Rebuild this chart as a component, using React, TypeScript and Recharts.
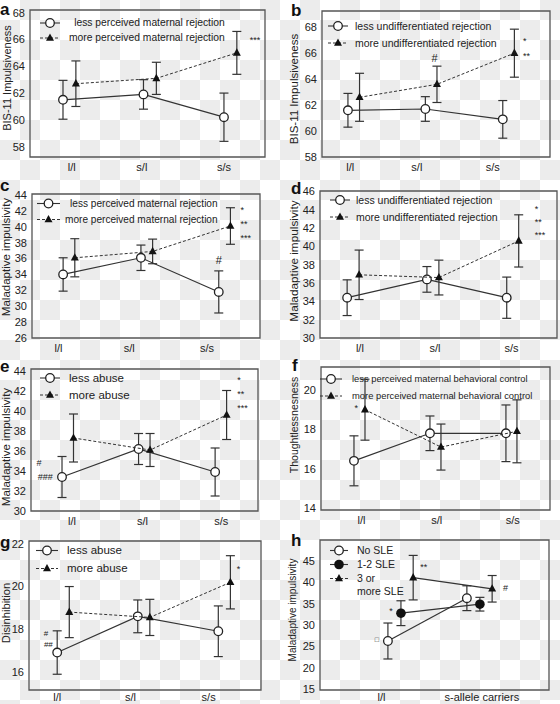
import React from "react"
import { ScatterChart, Scatter, XAxis, YAxis, ErrorBar, ReferenceArea, Legend } from "recharts"

const FONT = '"Liberation Sans", Arial, Helvetica, sans-serif'

// categories
const GENOTYPES = ["l/l", "s/l", "s/s"]
const CARRIER_GROUPS = ["l/l", "s-allele carriers"]

// y tick labels
const TICKS_A = [58, 60, 62, 64, 66, 68]
const TICKS_B = [58, 60, 62, 64, 66, 68]
const TICKS_C = [26, 28, 30, 32, 34, 36, 38, 40, 42, 44]
const TICKS_D = [30, 32, 34, 36, 38, 40, 42, 44, 46]
const TICKS_E = [30, 32, 34, 36, 38, 40, 42, 44]
const TICKS_F = [14, 16, 18, 20]
const TICKS_G = [16, 18, 20, 22]
const TICKS_H = [15, 20, 25, 30, 35, 40, 45]

// a: maternal rejection -> BIS-11
const A_LESS = [61.5, 61.9, 60.2]
const A_LESS_SE = [1.45, 1.1, 1.8]
const A_MORE = [62.7, 63.1, 65.0]
const A_MORE_SE = [1.7, 1.2, 1.6]

// b: undifferentiated rejection -> BIS-11
const B_LESS = [61.6, 61.7, 60.9]
const B_LESS_SE = [1.3, 0.95, 1.45]
const B_MORE = [62.6, 63.6, 66.0]
const B_MORE_SE = [1.85, 1.4, 1.85]

// c: maternal rejection -> maladaptive impulsivity
const C_LESS = [34.0, 36.1, 31.8]
const C_LESS_SE = [2.1, 1.6, 2.65]
const C_MORE = [36.1, 36.9, 40.1]
const C_MORE_SE = [2.4, 1.55, 2.3]

// d: undifferentiated rejection -> maladaptive impulsivity
const D_LESS = [34.4, 36.4, 34.4]
const D_LESS_SE = [1.95, 1.4, 2.25]
const D_MORE = [36.9, 36.6, 40.6]
const D_MORE_SE = [2.7, 1.9, 2.85]

// e: abuse -> maladaptive impulsivity
const E_LESS = [33.4, 36.2, 33.9]
const E_LESS_SE = [2.05, 1.55, 2.4]
const E_MORE = [37.3, 36.1, 39.6]
const E_MORE_SE = [2.4, 1.65, 2.45]

// f: behavioral control -> thoughtlessness
const F_LESS = [16.4, 17.8, 17.8]
const F_LESS_SE = [1.27, 0.88, 1.44]
const F_MORE = [19.0, 17.1, 17.9]
const F_MORE_SE = [1.55, 1.17, 1.6]

// g: abuse -> disinhibition
const G_LESS = [16.9, 18.6, 17.9]
const G_LESS_SE = [1.02, 0.77, 1.19]
const G_MORE = [18.8, 18.55, 20.2]
const G_MORE_SE = [1.2, 0.85, 1.25]

// h: stressful life events
const H_NONE = [26.3, 36.3]
const H_NONE_SE = [4.2, 2.9]
const H_LOW = [32.8, 34.9]
const H_LOW_SE = [2.9, 1.6]
const H_HIGH = [41.1, 38.5]
const H_HIGH_SE = [5.2, 3.1]

type Kind = "open" | "tri" | "dot"
type Series = { name: string; values: number[]; se: number[]; kind: Kind; dashed: boolean; dodge: number }
type Note = { x: number; y: number; text: string; anchor?: "start" | "middle"; size?: number }
type LegendCfg = { x: number; y: number; rowH: number; sampleW: number; gap: number; fontSize: number; align?: "left" | "right" }
type PanelCfg = {
  letter: string
  letterPos: [number, number]
  box: [number, number, number, number]
  yDomain: [number, number]
  yTicks: number[]
  yLabel: string
  yLabelPos: [number, number]
  yLabelSize: number
  xDomain: [number, number]
  xTicks: number[]
  xLabels: string[]
  xTickSize?: number
  series: Series[]
  notes: Note[]
  legend: LegendCfg
  solidLines?: boolean
}

function Marker({ kind, cx, cy }: { kind: Kind; cx: number; cy: number }) {
  if (kind === "open") return <circle cx={cx} cy={cy} r={4.3} fill="#fff" stroke="#222" strokeWidth={1.3} />
  if (kind === "dot") return <circle cx={cx} cy={cy} r={4.8} fill="#111" />
  return <polygon points={`${cx},${cy - 4.6} ${cx + 4},${cy + 2.8} ${cx - 4},${cy + 2.8}`} fill="#111" />
}

function NoteShape(props: any) {
  const { cx, cy, payload } = props
  const star = payload.text.startsWith("*")
  return (
    <text
      x={cx}
      y={cy}
      dy={star ? "0.6em" : "0.36em"}
      textAnchor={payload.anchor ?? "middle"}
      fontSize={payload.size ?? 9}
      fontFamily={FONT}
      fill="#222"
    >
      {payload.text}
    </text>
  )
}

function LegendRows({ cfg, series }: { cfg: LegendCfg; series: Series[] }) {
  return (
    <div
      style={{
        display: "grid",
        gridTemplateColumns: "auto auto",
        columnGap: cfg.gap,
        fontFamily: FONT,
        fontSize: cfg.fontSize,
        color: "#222",
        lineHeight: `${cfg.rowH}px`,
      }}
    >
      {series.map((s) => (
        <React.Fragment key={s.name}>
          <svg width={cfg.sampleW} height={cfg.rowH} style={{ display: "block" }}>
            <line
              x1={0}
              x2={cfg.sampleW}
              y1={cfg.rowH / 2}
              y2={cfg.rowH / 2}
              stroke="#333"
              strokeWidth={1.1}
              strokeDasharray={s.dashed ? "3 2" : undefined}
            />
            <Marker kind={s.kind} cx={cfg.sampleW / 2} cy={cfg.rowH / 2} />
          </svg>
          <div style={{ textAlign: cfg.align ?? "left", whiteSpace: "pre-line", paddingBottom: 1 }}>{s.name}</div>
        </React.Fragment>
      ))}
    </div>
  )
}

function Panel({ cfg }: { cfg: PanelCfg }) {
  const [l, t, r, b] = cfg.box
  const YW = 28
  const MT = 8
  const MR = 8
  const XH = 22
  const left = l - YW
  const top = t - MT
  const width = r - l + YW + MR
  const height = b - t + MT + XH
  const tickStyle = { fontSize: 11, fill: "#222", fontFamily: FONT }

  return (
    <>
      <div style={{ position: "absolute", left, top }}>
        <ScatterChart width={width} height={height} margin={{ top: MT, right: MR, bottom: 0, left: 0 }}>
          <XAxis
            type="number"
            dataKey="x"
            domain={cfg.xDomain}
            ticks={cfg.xTicks}
            interval={0}
            allowDataOverflow
            tickFormatter={(v: number) => cfg.xLabels[cfg.xTicks.indexOf(v)] ?? ""}
            axisLine={false}
            tickLine={false}
            tickSize={cfg.xTickSize ?? 4}
            tickMargin={2}
            height={XH}
            tick={tickStyle}
          />
          <YAxis
            type="number"
            dataKey="y"
            domain={cfg.yDomain}
            ticks={cfg.yTicks}
            interval={0}
            allowDataOverflow
            axisLine={false}
            tickLine={false}
            tickSize={3}
            tickMargin={2}
            width={YW}
            tick={tickStyle}
          />
          <ReferenceArea
            x1={cfg.xDomain[0]}
            x2={cfg.xDomain[1]}
            y1={cfg.yDomain[0]}
            y2={cfg.yDomain[1]}
            fill="none"
            stroke="#555"
            strokeWidth={1.3}
          />
          {cfg.series.map((s) => (
            <Scatter
              key={s.name}
              name={s.name}
              data={s.values.map((y, i) => ({ x: i + 1 + s.dodge, y, se: s.se[i] }))}
              line={{
                stroke: "#333",
                strokeWidth: s.dashed && !cfg.solidLines ? 1 : 1.2,
                strokeDasharray: s.dashed && !cfg.solidLines ? "3 2" : undefined,
              }}
              lineType="joint"
              shape={(p: any) => <Marker kind={s.kind} cx={p.cx} cy={p.cy} />}
              isAnimationActive={false}
            >
              <ErrorBar dataKey="se" direction="y" width={4.5} stroke="#333" strokeWidth={1.2} />
            </Scatter>
          ))}
          <Scatter data={cfg.notes} shape={NoteShape} isAnimationActive={false} />
          <Legend
            layout="vertical"
            align="center"
            verticalAlign="middle"
            wrapperStyle={{ left: cfg.legend.x - left, top: cfg.legend.y - cfg.legend.rowH / 2 - top, width: "auto" }}
            content={() => <LegendRows cfg={cfg.legend} series={cfg.series} />}
          />
        </ScatterChart>
      </div>
      <div
        style={{
          position: "absolute",
          left: cfg.letterPos[0],
          top: cfg.letterPos[1] - 13,
          fontFamily: FONT,
          fontWeight: "bold",
          fontSize: 17,
          lineHeight: "17px",
          color: "#111",
        }}
      >
        {cfg.letter}
      </div>
      <div
        style={{
          position: "absolute",
          left: cfg.yLabelPos[0],
          top: cfg.yLabelPos[1],
          transform: "translate(-50%, -50%) rotate(-90deg)",
          whiteSpace: "nowrap",
          fontFamily: FONT,
          fontSize: cfg.yLabelSize,
          lineHeight: 1,
          color: "#222",
        }}
      >
        {cfg.yLabel}
      </div>
    </>
  )
}

const pair = (lessName: string, moreName: string, less: number[], lessSe: number[], more: number[], moreSe: number[], dodge: number): Series[] => [
  { name: lessName, values: less, se: lessSe, kind: "open", dashed: false, dodge: 0 },
  { name: moreName, values: more, se: moreSe, kind: "tri", dashed: true, dodge },
]

const PANELS: PanelCfg[] = [
  {
    letter: "a",
    letterPos: [0, 14],
    box: [30, 10, 265, 157],
    yDomain: [57.23, 68.2],
    yTicks: TICKS_A,
    yLabel: "BIS-11 Impulsiveness",
    yLabelPos: [7, 78],
    yLabelSize: 11,
    xDomain: [0.59, 3.51],
    xTicks: [1.11, 1.98, 3.0],
    xLabels: GENOTYPES,
    series: pair("less perceived maternal rejection", "more perceived maternal rejection", A_LESS, A_LESS_SE, A_MORE, A_MORE_SE, 0.16),
    notes: [{ x: 3.32, y: 66.15, text: "***", anchor: "start" }],
    legend: { x: 40, y: 23, rowH: 14, sampleW: 20, gap: 9, fontSize: 10.3, align: "right" },
  },
  {
    letter: "b",
    letterPos: [291, 15],
    box: [322, 11, 550, 157],
    yDomain: [58, 69.25],
    yTicks: TICKS_B,
    yLabel: "BIS-11 Impulsiveness",
    yLabelPos: [295, 89],
    yLabelSize: 11.5,
    xDomain: [0.665, 3.61],
    xTicks: [1.03, 1.89, 2.87],
    xLabels: GENOTYPES,
    series: pair("less undifferentiated rejection", "more undifferentiated rejection", B_LESS, B_LESS_SE, B_MORE, B_MORE_SE, 0.15),
    notes: [
      { x: 2.12, y: 65.6, text: "#", size: 11 },
      { x: 3.26, y: 67.1, text: "*", anchor: "start" },
      { x: 3.26, y: 66.0, text: "**", anchor: "start" },
    ],
    legend: { x: 328, y: 26, rowH: 16, sampleW: 20, gap: 7, fontSize: 10.5 },
  },
  {
    letter: "c",
    letterPos: [0, 190],
    box: [32, 194, 260, 338],
    yDomain: [26, 44.13],
    yTicks: TICKS_C,
    yLabel: "Maladaptive impulsivity",
    yLabelPos: [7, 257],
    yLabelSize: 11.5,
    xDomain: [0.6, 3.53],
    xTicks: [0.94, 1.85, 2.85],
    xLabels: GENOTYPES,
    series: pair("less perceived maternal rejection", "more perceived maternal rejection", C_LESS, C_LESS_SE, C_MORE, C_MORE_SE, 0.15),
    notes: [
      { x: 3.28, y: 42.4, text: "*", anchor: "start" },
      { x: 3.28, y: 40.6, text: "**", anchor: "start" },
      { x: 3.28, y: 38.9, text: "***", anchor: "start" },
      { x: 3.0, y: 35.8, text: "#", size: 11 },
    ],
    legend: { x: 37, y: 203, rowH: 15, sampleW: 23, gap: 5, fontSize: 10.1, align: "right" },
  },
  {
    letter: "d",
    letterPos: [291, 193],
    box: [320, 191, 557, 338],
    yDomain: [30, 46.05],
    yTicks: TICKS_D,
    yLabel: "Maladaptive impulsivity",
    yLabelPos: [295, 261],
    yLabelSize: 11.8,
    xDomain: [0.66, 3.63],
    xTicks: [1.16, 2.1, 3.06],
    xLabels: GENOTYPES,
    series: pair("less undifferentiated rejection", "more undifferentiated rejection", D_LESS, D_LESS_SE, D_MORE, D_MORE_SE, 0.15),
    notes: [
      { x: 3.35, y: 44.4, text: "*", anchor: "start" },
      { x: 3.35, y: 42.9, text: "**", anchor: "start" },
      { x: 3.35, y: 41.5, text: "***", anchor: "start" },
    ],
    legend: { x: 330, y: 200, rowH: 16, sampleW: 20, gap: 6, fontSize: 10.5 },
  },
  {
    letter: "e",
    letterPos: [0, 371],
    box: [31, 369, 258, 511],
    yDomain: [30, 44.2],
    yTicks: TICKS_E,
    yLabel: "Maladaptive impulsivity",
    yLabelPos: [7, 447],
    yLabelSize: 11.5,
    xDomain: [0.595, 3.56],
    xTicks: [1.13, 2.05, 3.08],
    xLabels: GENOTYPES,
    series: pair("less abuse", "more abuse", E_LESS, E_LESS_SE, E_MORE, E_MORE_SE, 0.15),
    notes: [
      { x: 3.29, y: 43.3, text: "*", anchor: "start" },
      { x: 3.29, y: 41.9, text: "**", anchor: "start" },
      { x: 3.29, y: 40.57, text: "***", anchor: "start" },
      { x: 0.7, y: 34.8, text: "#" },
      { x: 0.78, y: 33.4, text: "###" },
    ],
    legend: { x: 40, y: 378, rowH: 16, sampleW: 20, gap: 9, fontSize: 11.5 },
  },
  {
    letter: "f",
    letterPos: [292, 370],
    box: [321, 367, 550, 510],
    yDomain: [13.9, 21.17],
    yTicks: TICKS_F,
    yLabel: "Thoughtlessnesness",
    yLabelPos: [294, 425],
    yLabelSize: 10.5,
    xDomain: [0.566, 3.58],
    xTicks: [1.1, 2.09, 3.09],
    xLabels: GENOTYPES,
    series: pair(
      "less perceived maternal behavioral control",
      "more perceived maternal behavioral control",
      F_LESS,
      F_LESS_SE,
      F_MORE,
      F_MORE_SE,
      0.145,
    ),
    notes: [{ x: 1.03, y: 19.19, text: "*" }],
    legend: { x: 320, y: 379, rowH: 16, sampleW: 22, gap: 10, fontSize: 9.4 },
  },
  {
    letter: "g",
    letterPos: [0, 547],
    box: [29, 541, 261, 690],
    yDomain: [15.14, 22.14],
    yTicks: TICKS_G,
    yLabel: "Disinhibition",
    yLabelPos: [7, 613],
    yLabelSize: 11.2,
    xDomain: [0.65, 3.53],
    xTicks: [1.0, 1.91, 2.88],
    xLabels: GENOTYPES,
    xTickSize: 1,
    series: pair("less abuse", "more abuse", G_LESS, G_LESS_SE, G_MORE, G_MORE_SE, 0.15),
    notes: [
      { x: 3.25, y: 20.93, text: "*" },
      { x: 0.86, y: 17.83, text: "#", size: 8 },
      { x: 0.89, y: 17.28, text: "##", size: 8 },
    ],
    legend: { x: 36, y: 550, rowH: 17, sampleW: 22, gap: 9, fontSize: 11.5 },
  },
  {
    letter: "h",
    letterPos: [291, 545],
    box: [320, 540, 549, 690],
    yDomain: [14.85, 49.9],
    yTicks: TICKS_H,
    yLabel: "Maladaptive impulsivity",
    yLabelPos: [293, 610],
    yLabelSize: 10,
    xDomain: [0.14, 3.04],
    xTicks: [0.92, 2.19],
    xLabels: CARRIER_GROUPS,
    xTickSize: 1,
    series: [
      { name: "No SLE", values: H_NONE, se: H_NONE_SE, kind: "open", dashed: false, dodge: 0 },
      { name: "1-2 SLE", values: H_LOW, se: H_LOW_SE, kind: "dot", dashed: false, dodge: 0.165 },
      { name: "3 or\nmore SLE", values: H_HIGH, se: H_HIGH_SE, kind: "tri", dashed: true, dodge: 0.32 },
    ],
    notes: [
      { x: 1.41, y: 44.2, text: "**", anchor: "start" },
      { x: 1.04, y: 33.9, text: "*" },
      { x: 0.86, y: 26.7, text: "□", size: 7 },
      { x: 2.49, y: 38.8, text: "#" },
    ],
    legend: { x: 330, y: 550, rowH: 13, sampleW: 18, gap: 9, fontSize: 10.5 },
    solidLines: true,
  },
]

export default function App() {
  return (
    <div
      style={{
        position: "absolute",
        left: 0,
        top: 0,
        width: 560,
        height: 704,
        overflow: "hidden",
        backgroundColor: "#fff",
        backgroundImage: "repeating-conic-gradient(#ececec 0% 25%, #ffffff 0% 50%)",
        backgroundSize: "40px 40px",
      }}
    >
      {PANELS.map((p) => (
        <Panel key={p.letter} cfg={p} />
      ))}
    </div>
  )
}
